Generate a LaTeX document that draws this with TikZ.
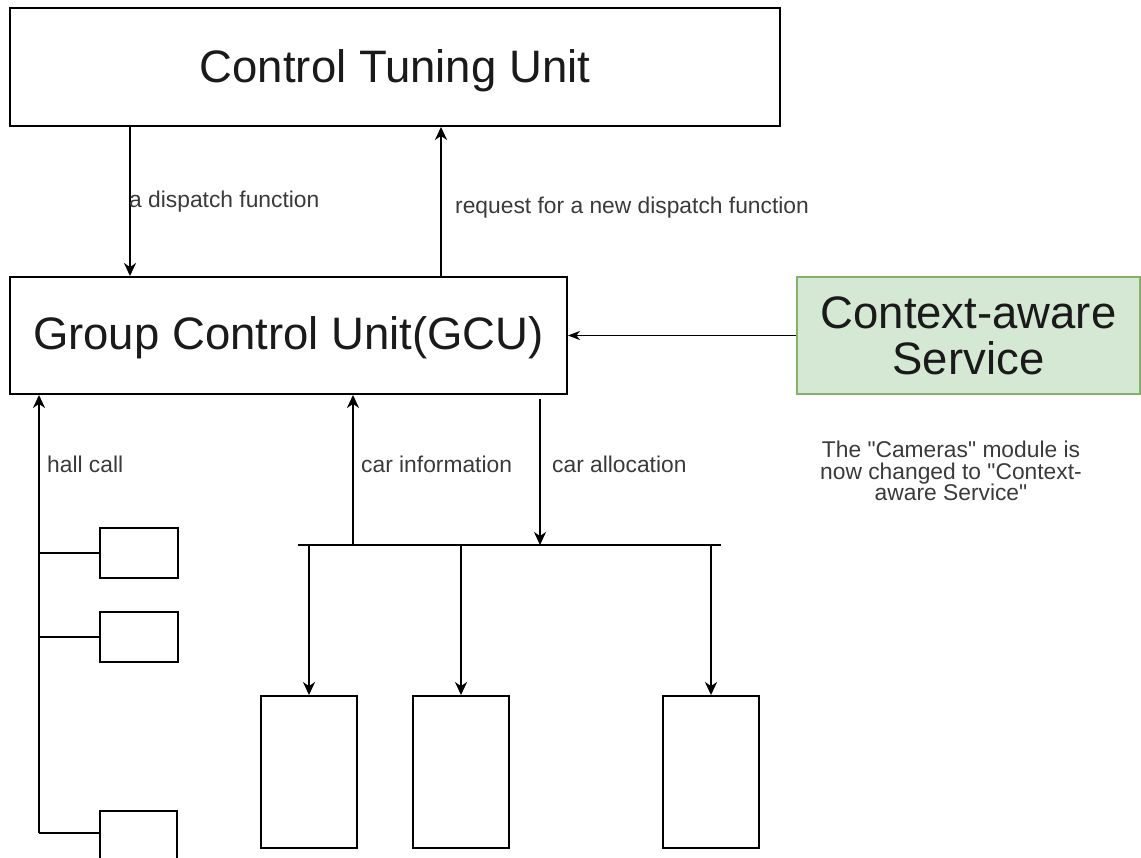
\documentclass[tikz,border=0pt]{standalone}
\usepackage{fontspec}
\setmainfont{Liberation Sans}
\usetikzlibrary{arrows.meta}

\definecolor{ctxfill}{HTML}{D5E8D4}
\definecolor{ctxline}{HTML}{82B366}
\definecolor{labeltext}{HTML}{3A3A3A}
\definecolor{titletext}{HTML}{1A1A1A}

\tikzset{
  unit/.style={draw=black, line width=1.9pt, fill=white, inner sep=0pt, text=titletext,
    font=\fontsize{45.5}{46}\selectfont, align=center},
  module/.style={draw=black, line width=1.9pt, fill=white, inner sep=0pt},
  ln/.style={draw=black, line width=1.9pt},
  arr/.style={ln, -{Stealth[length=13pt,width=12pt,inset=4pt]}},
  thinarr/.style={draw=black, line width=1.5pt, -{Stealth[length=12pt,width=9pt,inset=3.5pt]}},
  lbl/.style={font=\fontsize{22.8}{24}\selectfont, text=labeltext, inner sep=0pt, anchor=base west},
}

\begin{document}
\begin{tikzpicture}[x=1pt, y=-1pt]
  \useasboundingbox (0,0) rectangle (1141,858);
  \clip (0,0) rectangle (1141,858);

  % main units
  \node[unit, minimum width=770pt, minimum height=118pt] (ctu) at (395,67)
    {\raisebox{-4pt}[\height][\depth]{Control Tuning Unit}};
  \node[unit, minimum width=557pt, minimum height=117pt] (gcu) at (288.5,335.5)
    {\raisebox{-2pt}[\height][\depth]{Group Control Unit(GCU)}};
  \node[unit, fill=ctxfill, draw=ctxline, minimum width=343pt, minimum height=117pt] (ctx) at (968.5,335.5)
    {Context-aware\\Service};

  % note under the context-aware service
  \node[font=\fontsize{22.8}{21.3}\selectfont, text=labeltext, align=center, inner sep=0pt] (note) at (951,471)
    {The \textquotedbl Cameras\textquotedbl{} module is\\now changed to \textquotedbl Context-\\aware Service\textquotedbl};

  % dispatch function exchange
  \coordinate (dsp) at (130,0);
  \coordinate (req) at (441,0);
  \draw[arr] (ctu.south -| dsp) -- (gcu.north -| dsp);
  \draw[arr] (gcu.north -| req) -- (ctu.south -| req);
  \node[lbl] (ldsp) at (129,208) {a dispatch function};
  \node[lbl] (lreq) at (455,214) {request for a new dispatch function};

  % context-aware service feeds the GCU
  \draw[thinarr] (ctx.west) -- (gcu.east);

  % hall call buttons
  \node[module, minimum width=78pt, minimum height=50pt] (hc1) at (139,553) {};
  \node[module, minimum width=78pt, minimum height=50pt] (hc2) at (139,637) {};
  \node[module, minimum width=77pt, minimum height=50pt, anchor=north west] (hc3) at (99,810) {};
  \coordinate (hbase) at (39,833);
  \draw[arr] (hbase) -- (hbase |- gcu.south);
  \draw[ln] (hbase |- hc1.west) -- (hc1.west);
  \draw[ln] (hbase |- hc2.west) -- (hc2.west);
  \draw[ln] (hbase) -- (hbase -| hc3.west);
  \node[lbl] (lhall) at (47,472) {hall call};

  % car bus
  \coordinate (busL) at (298,545);
  \coordinate (busR) at (721,545);
  \draw[ln] (busL) -- (busR);
  \coordinate (cinfo) at (353,545);
  \coordinate (calloc) at (540,545);
  \draw[arr] (cinfo) -- (cinfo |- gcu.south);
  \draw[arr] ([yshift=-4pt]calloc |- gcu.south) -- (calloc);
  \node[lbl] (linfo) at (361,472) {car information};
  \node[lbl] (lalloc) at (552,472) {car allocation};

  % cars
  \node[module, minimum width=96pt, minimum height=152pt] (car1) at (309,772) {};
  \node[module, minimum width=96pt, minimum height=152pt] (car2) at (461,772) {};
  \node[module, minimum width=96pt, minimum height=152pt] (car3) at (711,772) {};
  \draw[arr] (car1.north |- busL) -- (car1.north);
  \draw[arr] (car2.north |- busL) -- (car2.north);
  \draw[arr] (car3.north |- busL) -- (car3.north);
\end{tikzpicture}
\end{document}
